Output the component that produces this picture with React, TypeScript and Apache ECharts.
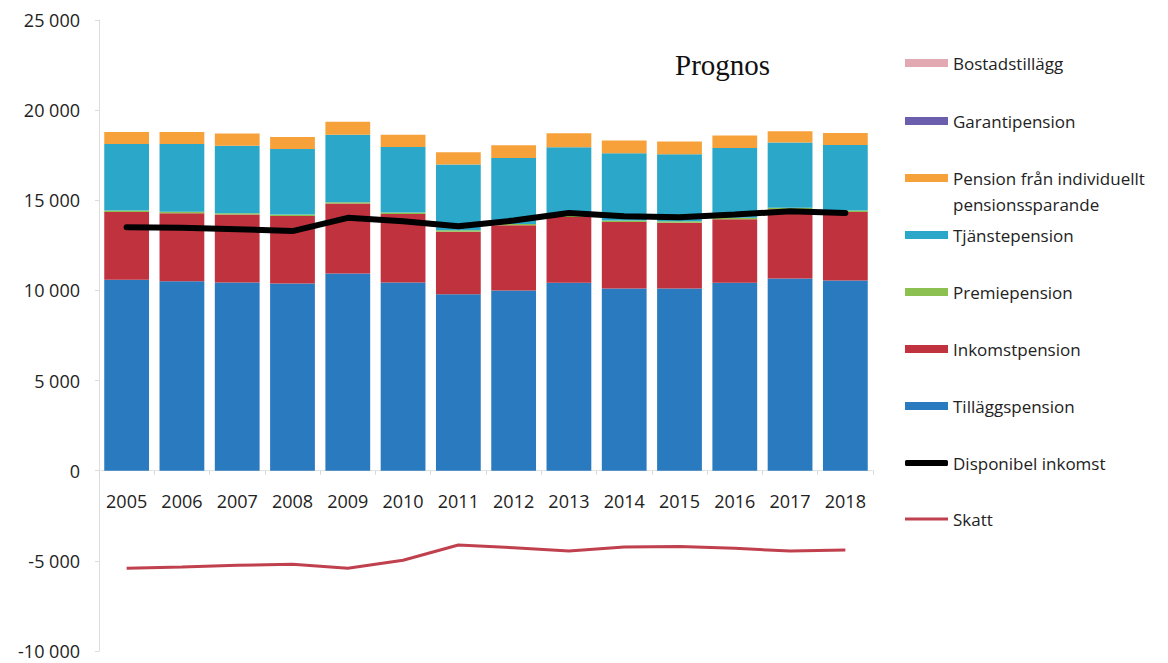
import React, { useEffect, useRef } from "react";
import * as echarts from "echarts";

const years = ["2005","2006","2007","2008","2009","2010","2011","2012","2013","2014","2015","2016","2017","2018"];
const tillaggspension = [10590, 10515, 10440, 10380, 10935, 10440, 9790, 9995, 10420, 10105, 10105, 10420, 10660, 10550];
const inkomstpension = [3760, 3765, 3765, 3750, 3880, 3800, 3470, 3615, 3650, 3690, 3655, 3525, 3840, 3800];
const premiepension = [80, 80, 80, 80, 80, 80, 80, 80, 80, 80, 80, 80, 80, 80];
const tjanstepension = [3695, 3765, 3745, 3640, 3745, 3640, 3640, 3660, 3790, 3735, 3715, 3880, 3620, 3640];
const individuellt = [665, 665, 670, 660, 710, 680, 690, 705, 780, 700, 700, 685, 630, 665];
const garantipension = [0, 0, 0, 0, 0, 0, 0, 0, 0, 0, 0, 0, 0, 0];
const bostadstillagg = [0, 0, 0, 0, 0, 0, 0, 0, 0, 0, 0, 0, 0, 0];
const disponibelInkomst = [13510, 13470, 13400, 13290, 14025, 13840, 13565, 13875, 14300, 14115, 14060, 14210, 14395, 14300];
const skatt = [-5415, -5340, -5245, -5190, -5415, -4970, -4120, -4270, -4455, -4230, -4210, -4305, -4455, -4400];
const yTicks = { min: -10000, max: 25000, interval: 5000 };

const FONT = "'Open Sans', 'Noto Sans', sans-serif";

export default function App() {
  const ref = useRef<HTMLDivElement>(null);
  useEffect(() => {
    document.body.style.margin = "0";
    const chart = echarts.init(ref.current!, null, { renderer: "svg" });
    const barNames = [
      ["Tilläggspension", tillaggspension, "#2a7abf"],
      ["Inkomstpension", inkomstpension, "#c1323f"],
      ["Premiepension", premiepension, "#8cc152"],
      ["Tjänstepension", tjanstepension, "#2aa7c9"],
      ["Pension från individuellt pensionssparande", individuellt, "#f7a13a"],
      ["Garantipension", garantipension, "#6b5fad"],
      ["Bostadstillägg", bostadstillagg, "#e3a9b3"],
    ] as const;
    const series: any[] = barNames.map(([name, data, color]) => ({
      name,
      type: "bar",
      stack: "total",
      data,
      itemStyle: { color },
      barCategoryGap: "19%",
    }));
    series.push({
      name: "Disponibel inkomst",
      type: "line",
      data: disponibelInkomst,
      symbol: "none",
      lineStyle: { color: "#000", width: 6, cap: "round" },
      itemStyle: { color: "#000" },
      z: 5,
    });
    series.push({
      name: "Skatt",
      type: "line",
      data: skatt,
      symbol: "none",
      lineStyle: { color: "#c0404e", width: 3 },
      itemStyle: { color: "#c0404e" },
      z: 5,
    });

    const legendItems: [string, number, string, number][] = [
      ["Bostadstillägg", 63, "rect", 8],
      ["Garantipension", 121, "rect", 8],
      ["Pension från individuellt pensionssparande", 178, "rect", 8],
      ["Tjänstepension", 235, "rect", 8],
      ["Premiepension", 292, "rect", 8],
      ["Inkomstpension", 349, "rect", 8],
      ["Tilläggspension", 406, "rect", 8],
      ["Disponibel inkomst", 463, "roundRect", 6],
      ["Skatt", 519, "rect", 3],
    ];
    const legends = legendItems.map(([name, y, icon, ih]) => {
      const isPension = name.startsWith("Pension");
      const lh = isPension ? 26 : 20;
      const H = isPension ? 78 : 20;
      return {
        show: true,
        orient: "vertical",
        left: 905,
        top: y - H / 2,
        padding: 0,
        itemWidth: 43,
        itemHeight: ih,
        icon,
        selectedMode: false,
        formatter: isPension ? () => "\nPension från individuellt\npensionssparande" : undefined,
        textStyle: {
          fontFamily: FONT,
          fontSize: 17,
          color: "#222",
          lineHeight: lh,
        },
        data: [name],
      };
    });

    chart.setOption({
      animation: false,
      backgroundColor: "#fff",
      grid: { left: 99, right: 295, top: 20, bottom: 12, containLabel: false },
      legend: legends,
      graphic: [
        {
          type: "text",
          left: 675,
          top: 50,
          style: { text: "Prognos", fontFamily: "'Liberation Serif', serif", fontSize: 29, fill: "#111" },
        },
      ],
      xAxis: {
        type: "category",
        data: years,
        offset: -180.3,
        axisLine: { onZero: false, lineStyle: { color: "#e3e3e3", width: 1 } },
        axisTick: { show: true, alignWithLabel: false, length: 4, lineStyle: { color: "#d8d8d8" } },
        axisLabel: { fontFamily: FONT, fontSize: 18, color: "#222", margin: 21 },
      },
      yAxis: {
        type: "value",
        min: yTicks.min,
        max: yTicks.max,
        interval: yTicks.interval,
        axisLine: { show: true, lineStyle: { color: "#dcdcdc" } },
        axisTick: { show: true, length: 4, lineStyle: { color: "#dcdcdc" } },
        splitLine: { show: false },
        axisLabel: {
          fontFamily: FONT,
          fontSize: 18,
          lineHeight: 18,
          color: "#222",
          margin: 19,
          formatter: (v: number) => {
            const s = Math.abs(v).toString().replace(/\B(?=(\d{3})+(?!\d))/g, " ");
            return (v < 0 ? "-" : "") + s;
          },
        },
      },
      series,
    });
    return () => chart.dispose();
  }, []);
  return <div ref={ref} style={{ width: 1168, height: 663 }} />;
}
